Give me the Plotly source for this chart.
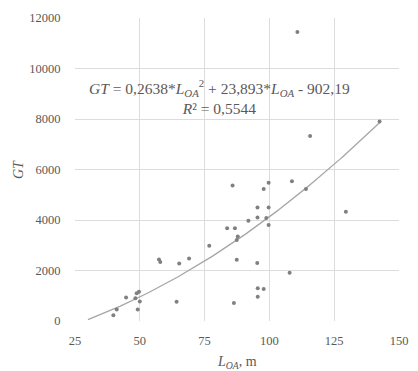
import numpy as np
import plotly.graph_objects as go

# Vessel length overall (m) and gross tonnage
loa = [110.8, 115.7, 142.5, 108.7, 114.1, 129.5,
       85.8, 97.8, 99.7, 95.4, 99.7, 95.4, 98.8, 91.9, 99.7,
       83.7, 86.7, 87.8, 87.4, 76.8, 69.0, 65.2, 57.4, 57.9,
       87.4, 95.3, 107.8, 95.5, 97.8, 95.5, 86.3, 64.2,
       44.7, 39.8, 41.1, 49.2, 50.0, 48.8, 49.7, 48.3]
gt = [11450, 7330, 7900, 5530, 5230, 4330,
      5370, 5230, 5480, 4500, 4500, 4100, 4080, 3970, 3800,
      3670, 3670, 3350, 3210, 2980, 2480, 2280, 2440, 2340,
      2430, 2300, 1910, 1300, 1270, 960, 710, 760,
      930, 230, 460, 460, 770, 1100, 1160, 900]

# Quadratic trendline coefficients
coef = [0.2638, 23.893, -902.19]
trend_x = np.linspace(30, 142.5, 120)
trend_y = coef[0] * trend_x**2 + coef[1] * trend_x + coef[2]

x_ticks = [25, 50, 75, 100, 125, 150]
y_ticks = [0, 2000, 4000, 6000, 8000, 10000, 12000]

serif = "Liberation Serif, Times New Roman, serif"
grey_text = "#595959"
grid = "#dcdcdc"

fig = go.Figure()
fig.add_trace(go.Scatter(
    x=trend_x, y=trend_y, mode="lines",
    line=dict(color="#a6a6a6", width=1.3), hoverinfo="skip",
))
fig.add_trace(go.Scatter(
    x=loa, y=gt, mode="markers",
    marker=dict(color="#808080", size=4),
))

fig.update_layout(
    width=418, height=371,
    margin=dict(l=75, r=10, t=18, b=50),
    paper_bgcolor="white", plot_bgcolor="white",
    showlegend=False,
    font=dict(family=serif, color=grey_text, size=12),
    xaxis=dict(
        range=[25, 150], tickvals=x_ticks, ticktext=[str(v) for v in x_ticks],
        showgrid=True, gridcolor=grid, gridwidth=1,
        zeroline=False, showline=False, ticks="outside", ticklen=8,
        tickcolor="rgba(0,0,0,0)",
        tickfont=dict(family=serif, size=12.5, color=grey_text),
    ),
    yaxis=dict(
        range=[0, 12000], tickvals=y_ticks, ticktext=[str(v) for v in y_ticks],
        showgrid=True, gridcolor=grid, gridwidth=1,
        zeroline=False, showline=False, ticks="outside", ticklen=11,
        tickcolor="rgba(0,0,0,0)",
        tickfont=dict(family=serif, size=12.5, color=grey_text),
    ),
    annotations=[
        dict(
            x=0.445, y=0.812, xref="paper", yref="paper",
            text=("<i>GT</i> = 0,2638*<i>L</i><sub><i>OA</i></sub><sup>2</sup>"
                  " + 23,893*<i>L</i><sub><i>OA</i></sub> - 902,19<br>"
                  "<i>R</i>² = 0,5544"),
            showarrow=False, align="center",
            font=dict(family=serif, size=15.5, color=grey_text),
        ),
        dict(
            x=-58 / 333, y=0.50, xref="paper", yref="paper", xanchor="center",
            text="<i>GT</i>", showarrow=False, textangle=-90,
            font=dict(family=serif, size=14, color=grey_text),
        ),
        dict(
            x=0.5, y=-0.137, xref="paper", yref="paper", yanchor="middle",
            text="<i>L</i><sub><i>OA</i></sub>, m", showarrow=False,
            font=dict(family=serif, size=14, color=grey_text),
        ),
    ],
)

fig.write_html("out.html")
